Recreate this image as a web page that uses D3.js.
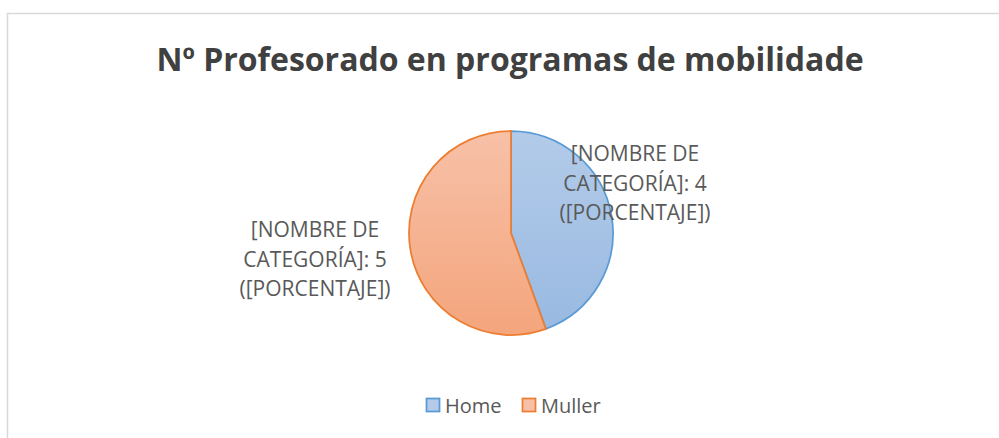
<!DOCTYPE html>
<html>
<head>
<meta charset="utf-8">
<script src="https://cdn.jsdelivr.net/npm/d3@7"></script>
<style>
    body { margin: 0; background: #ffffff; }
    text { font-family: "Open Sans", sans-serif; }
</style>
</head>
<body>
<div id="chart"></div>
<script>
// chart data
const categories = ["Home", "Muller"];
const values = [4, 5];
const labelLines = [
    ["[NOMBRE DE", "CATEGORÍA]: 4", "([PORCENTAJE])"],
    ["[NOMBRE DE", "CATEGORÍA]: 5", "([PORCENTAJE])"]
];
const chartTitle = "Nº Profesorado en programas de mobilidade";

/**
 * Draws the pie chart.
 */
function main() {
    let w = 999, h = 438;
    let cx = 511, cy = 233, radius = 102;

    let svg = d3.select("#chart")
                .append("svg")
                .attr("width", w)
                .attr("height", h);

    // gradients for the slices (in the pie group's coordinates)
    let defs = svg.append("defs");
    let grads = [["#b3cbe9", "#98b9e1"], ["#f7c1a8", "#f4a57c"]];
    grads.forEach(function(g, i) {
        let lg = defs.append("linearGradient")
                     .attr("id", "grad" + i)
                     .attr("gradientUnits", "userSpaceOnUse")
                     .attr("x1", 0).attr("y1", -radius)
                     .attr("x2", 0).attr("y2", radius);
        lg.append("stop").attr("offset", "0%").attr("stop-color", g[0]);
        lg.append("stop").attr("offset", "100%").attr("stop-color", g[1]);
    });
    let strokes = ["#5b9bd5", "#ed7d31"];

    // chart frame (only top and left visible)
    svg.append("rect")
       .attr("x", 7.5).attr("y", 13.5)
       .attr("width", 1010).attr("height", 450)
       .attr("fill", "none")
       .attr("stroke", "#d9d9d9")
       .attr("stroke-width", 1.5);

    // title
    svg.append("text")
       .attr("x", 510)
       .attr("y", 71)
       .attr("text-anchor", "middle")
       .attr("font-size", "32px")
       .attr("font-weight", "bold")
       .attr("fill", "#404040")
       .text(chartTitle);

    // pie
    let pie = d3.pie().sort(null).value(d => d);
    let arc = d3.arc().innerRadius(0).outerRadius(radius);
    let arcs = pie(values);

    let g = svg.append("g").attr("transform", `translate(${cx},${cy})`);
    g.selectAll("path")
     .data(arcs)
     .enter()
     .append("path")
     .attr("d", arc)
     .attr("fill", (d, i) => `url(#grad${i})`)
     .attr("stroke", (d, i) => strokes[i])
     .attr("stroke-width", 1.75);

    // data labels
    let labelPos = [[635, 161], [315, 237]];
    labelLines.forEach(function(lines, i) {
        let t = svg.append("text")
                   .attr("text-anchor", "middle")
                   .attr("font-size", "21px")
                   .attr("fill", "#595959");
        lines.forEach(function(line, j) {
            t.append("tspan")
             .attr("x", labelPos[i][0])
             .attr("y", labelPos[i][1] + j * 29.5)
             .text(line);
        });
    });

    // legend
    let legendX = [426, 522];
    let legend = svg.append("g");
    categories.forEach(function(c, i) {
        legend.append("rect")
              .attr("x", legendX[i] + 0.5)
              .attr("y", 398.5)
              .attr("width", 13)
              .attr("height", 13)
              .attr("fill", grads[i][0])
              .attr("stroke", strokes[i])
              .attr("stroke-width", 1.75);
        legend.append("text")
              .attr("x", legendX[i] + 19)
              .attr("y", 413)
              .attr("font-size", "20px")
              .attr("fill", "#595959")
              .text(c);
    });
}

main();
</script>
</body>
</html>
